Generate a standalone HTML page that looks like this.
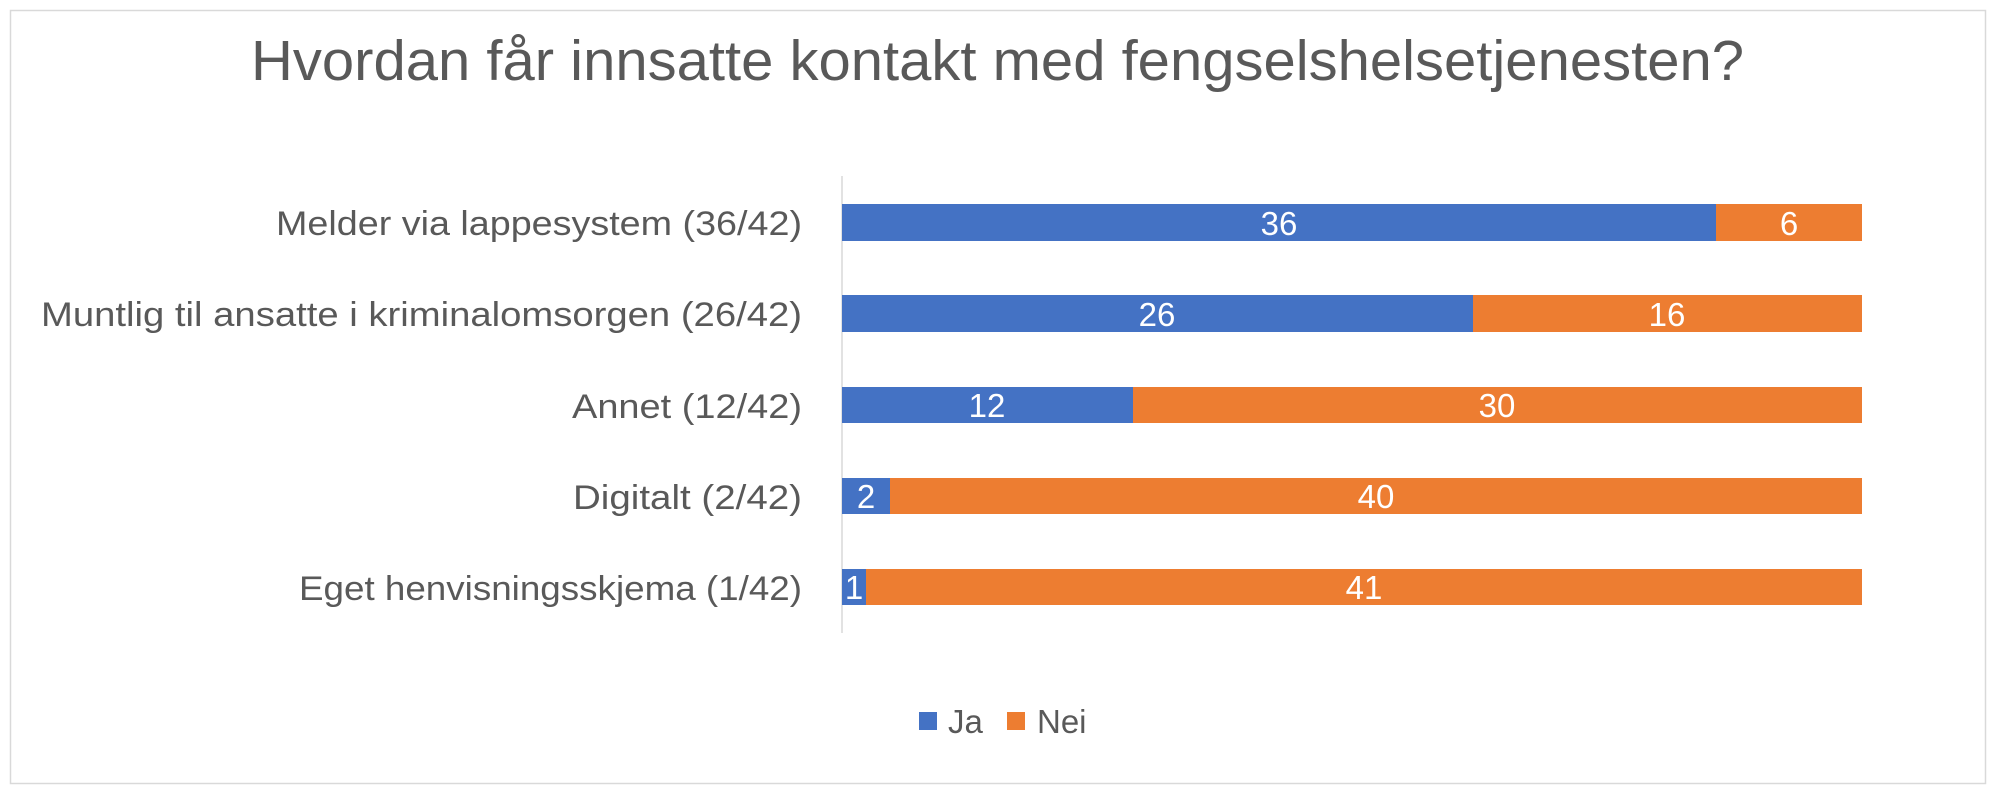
<!DOCTYPE html>
<html><head><meta charset="utf-8"><style>body{margin:0;background:#fff}svg{display:block}</style></head>
<body>
<svg width="1996" height="801" viewBox="0 0 1996 801" xmlns="http://www.w3.org/2000/svg" font-family="'Liberation Sans', sans-serif">
<rect x="10.5" y="10.5" width="1975" height="773" fill="#fff" stroke="#d9d9d9" stroke-width="1.5"/>
<text x="251" y="80" font-size="57" fill="#595959" textLength="1493" lengthAdjust="spacingAndGlyphs">Hvordan får innsatte kontakt med fengselshelsetjenesten?</text>
<line x1="842" y1="176" x2="842" y2="633" stroke="#d9d9d9" stroke-width="1.5"/>
<g font-size="34" fill="#595959">
<text x="276" y="235" textLength="526" lengthAdjust="spacingAndGlyphs">Melder via lappesystem (36/42)</text>
<text x="41" y="326" textLength="761" lengthAdjust="spacingAndGlyphs">Muntlig til ansatte i kriminalomsorgen (26/42)</text>
<text x="572" y="418" textLength="230" lengthAdjust="spacingAndGlyphs">Annet (12/42)</text>
<text x="573" y="509" textLength="229" lengthAdjust="spacingAndGlyphs">Digitalt (2/42)</text>
<text x="299" y="600" textLength="503" lengthAdjust="spacingAndGlyphs">Eget henvisningsskjema (1/42)</text>
</g>
<g>
<rect x="842" y="204" width="874" height="37" fill="#4472c4"/><rect x="1716" y="204" width="146" height="37" fill="#ed7d31"/>
<rect x="842" y="295" width="631" height="37" fill="#4472c4"/><rect x="1473" y="295" width="389" height="37" fill="#ed7d31"/>
<rect x="842" y="387" width="291" height="36" fill="#4472c4"/><rect x="1133" y="387" width="729" height="36" fill="#ed7d31"/>
<rect x="842" y="478" width="48" height="36" fill="#4472c4"/><rect x="890" y="478" width="972" height="36" fill="#ed7d31"/>
<rect x="842" y="569" width="24" height="36" fill="#4472c4"/><rect x="866" y="569" width="996" height="36" fill="#ed7d31"/>
</g>
<g font-size="33" fill="#fff" text-anchor="middle">
<text x="1279" y="235">36</text><text x="1789" y="235">6</text>
<text x="1157" y="326">26</text><text x="1667" y="326">16</text>
<text x="987" y="417">12</text><text x="1497" y="417">30</text>
<text x="866" y="508">2</text><text x="1376" y="508">40</text>
<text x="854" y="599">1</text><text x="1364" y="599">41</text>
</g>
<rect x="919" y="712" width="18" height="18" fill="#4472c4"/>
<text x="948" y="733" font-size="33" fill="#595959">Ja</text>
<rect x="1007" y="712" width="18" height="18" fill="#ed7d31"/>
<text x="1037" y="733" font-size="33" fill="#595959">Nei</text>
</svg>
</body></html>
